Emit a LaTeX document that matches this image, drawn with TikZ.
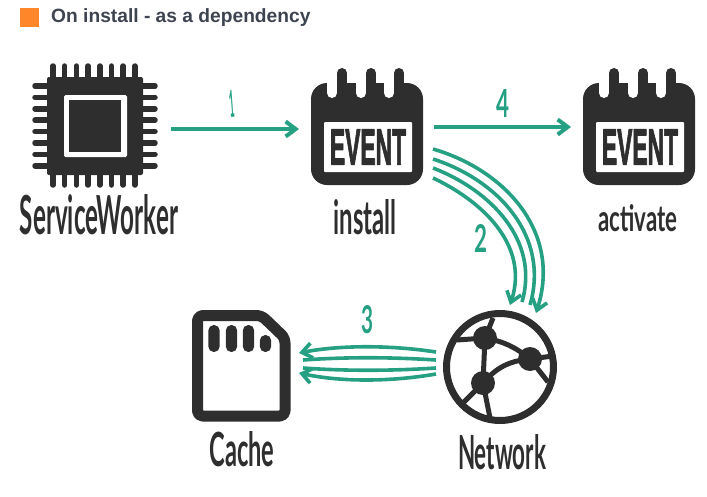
\documentclass[tikz,border=0pt]{standalone}
\usepackage{fontspec}
\usetikzlibrary{arrows.meta}
\setmainfont{Liberation Sans}
\newfontfamily\handfont[FakeStretch=0.55]{Lato}
\newfontfamily\eventfont[FakeBold=2.5]{Liberation Sans}
\definecolor{inkdark}{HTML}{2E2E2E}
\definecolor{flowgreen}{HTML}{26A083}
\definecolor{titlegrey}{HTML}{3D4450}
\definecolor{keyorange}{HTML}{FF8629}
\newcommand{\handtext}[3]{\resizebox{#1pt}{#2pt}{\handfont\bfseries #3}}
\tikzset{
  every picture/.style={line join=round, >={Straight Barb[length=10pt,width=15pt]}},
  flow/.style={draw=flowgreen, line width=4pt},
  thinflow/.style={draw=flowgreen, line width=3.6pt},
  iconlabel/.style={inner sep=0pt, text=inkdark},
  steplabel/.style={inner sep=0pt, text=flowgreen},
  calendar/.pic={
    \fill[inkdark,rounded corners=16pt](0,0)rectangle(112,102);
    \foreach \tabx in {21,50,78}{
      \draw[white,line width=10pt,line cap=round](\tabx,-20)--(\tabx,10);
      \draw[inkdark,line width=10pt,line cap=round](\tabx+10,-10)--(\tabx+10,4);
    }
    \fill[white,rounded corners=1pt](13,39)rectangle(101,89);
    \node[inner sep=0pt,text=inkdark](-tag) at (57,64){\resizebox{76pt}{35pt}{\eventfont\bfseries EVENT}};
  },
}
\begin{document}
\begin{tikzpicture}[x=1pt,y=-1pt]
\useasboundingbox(0,0)rectangle(707,496);
\fill[keyorange](20,8)rectangle(39,27);
\node[anchor=west,inner sep=0pt,text=titlegrey,font=\fontsize{19.2}{22}\selectfont\bfseries](title) at (51,17.5){On install - as a dependency};
\foreach \pin in {0,...,7}{
  \draw[inkdark,line width=5.5pt,line cap=round](53+\pin*11.7,66)--(53+\pin*11.7,185);
  \draw[inkdark,line width=5.5pt,line cap=round](35,86+\pin*11.4)--(155,86+\pin*11.4);
}
\fill[inkdark,rounded corners=2pt](47,77)rectangle(143,175);
\fill[white,rounded corners=1.5pt](64,95)rectangle(127,157);
\fill[inkdark](69,100)rectangle(121,152);
\node[iconlabel](worker) at (99,215){\handtext{158}{40}{ServiceWorker}};
\pic(install) at (311,83){calendar};
\node[iconlabel](installtext) at (365,217){\handtext{63}{35}{install}};
\pic(activate) at (583,83){calendar};
\node[iconlabel](activatetext) at (638,218){\handtext{79}{27}{activate}};
\draw[inkdark,line width=11pt,rounded corners=5pt](197.5,315.5)--(261.5,315.5)--(285,338)--(285,416)--(197.5,416)--cycle;
\foreach \pinx/\piny in {214/325,231.5/325,248.5/325,265.5/335}{
  \fill[inkdark,rounded corners=5.5pt](\pinx-5.7,\piny)rectangle(\pinx+5.7,352);
}
\node[iconlabel](cache) at (242,449){\handtext{65}{35}{Cache}};
\draw[inkdark,line width=7pt](500,367)circle(53.5);
\coordinate(hubtop) at (485,338);
\coordinate(hubright) at (530,359);
\coordinate(hublow) at (483,383);
\begin{scope}[inkdark,line width=5pt]
\draw(hubtop)--(493,318);
\draw(hubtop)--(457,340);
\draw(hubtop)--(hublow);
\draw(hubtop)to[bend left=14](hubright);
\draw(hublow)to[bend left=22](hubright);
\draw(hubright)--(553,356);
\draw(hubright)--(548,382);
\draw(hublow)--(463,403);
\draw(hublow)--(490,418);
\end{scope}
\foreach \hub in {hubtop,hubright,hublow}{
  \fill[inkdark](\hub)circle(12);
}
\node[iconlabel](network) at (502,452){\handtext{88}{35}{Network}};
\coordinate(workerout) at (171,129);
\coordinate(installin) at (299,129);
\coordinate(installout) at (434,127);
\coordinate(activatein) at (571,127);
\draw[flow,->](workerout)--(installin);
\draw[flow,->](installout)--(activatein);
\node[steplabel,rotate=4](stepone) at (232,104){\handtext{5}{27}{1}};
\node[steplabel](stepfour) at (503,103){\handtext{13}{28}{4}};
\coordinate(installa) at (433,149);
\coordinate(installb) at (433,159);
\coordinate(installc) at (433,168);
\coordinate(installd) at (433,178);
\coordinate(neta) at (536,313);
\coordinate(netb) at (530,305);
\coordinate(netc) at (522,302);
\coordinate(netd) at (510,305);
\draw[thinflow,->](installa)..controls(505,170)and(562,232)..(neta);
\draw[thinflow](installb)..controls(498,180)and(550,236)..(netb);
\draw[thinflow](installc)..controls(490,190)and(540,240)..(netc);
\draw[thinflow,->](installd)..controls(480,200)and(530,244)..(netd);
\node[steplabel](steptwo) at (481,238){\handtext{13}{28}{2}};
\coordinate(senda) at (436,352);
\coordinate(sendb) at (436,360);
\coordinate(sendc) at (436,368);
\coordinate(sendd) at (436,374);
\coordinate(cachea) at (299,353);
\coordinate(cacheb) at (303,360);
\coordinate(cachec) at (303,368);
\coordinate(cached) at (299,373);
\draw[thinflow,->](senda)..controls(390,345)and(340,345)..(cachea);
\draw[thinflow](sendb)..controls(390,357)and(345,357)..(cacheb);
\draw[thinflow](sendc)..controls(390,371)and(345,371)..(cachec);
\draw[thinflow,->](sendd)..controls(390,382)and(340,382)..(cached);
\node[steplabel](stepthree) at (367,320){\handtext{12}{28}{3}};
\end{tikzpicture}
\end{document}
